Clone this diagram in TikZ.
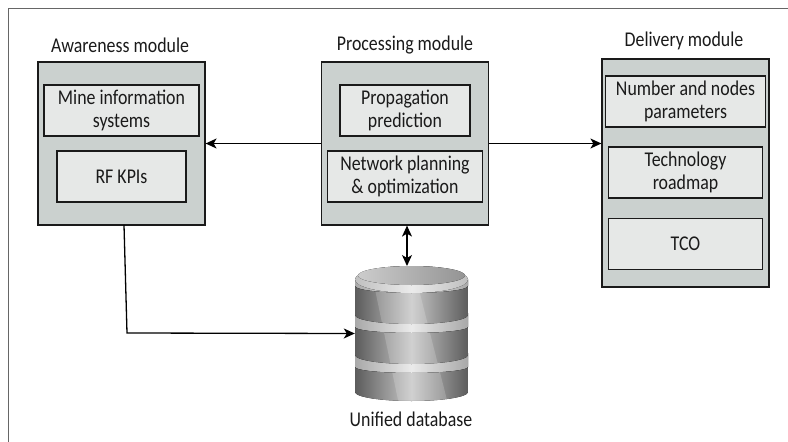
\documentclass[tikz,border=0pt]{standalone}
\usepackage{fontspec}
\setmainfont[FakeStretch=0.85]{Carlito}
\usetikzlibrary{positioning}
\usetikzlibrary{arrows.meta}
\definecolor{moduleback}{HTML}{CBD1CF}
\definecolor{partback}{HTML}{E6E8E7}
\definecolor{inkline}{HTML}{1A1A1A}

\begin{document}
\begin{tikzpicture}[
    x=1pt, y=-1pt,
    module/.style={rectangle, draw=inkline, line width=1.2pt, fill=moduleback, minimum width=167pt, inner sep=0pt},
    part/.style={rectangle, draw=inkline, line width=1.2pt, fill=partback, minimum height=51pt, inner sep=0pt, align=center, text=inkline,
      font=\fontsize{21}{23}\selectfont},
    caption/.style={text=inkline, font=\fontsize{21}{23}\selectfont, inner sep=0pt},
    link/.style={draw=black, line width=1.3pt, -{Stealth[length=11pt,width=10pt,inset=3pt]}}]

  \useasboundingbox (0,0) rectangle (788,442);

  % Frame (left and top only)
  \coordinate (frameL) at (8,442);
  \coordinate (frameC) at (8,8);
  \coordinate (frameT) at (788,8);
  \draw[gray!80!black, line width=0.9pt] (frameL) -- (frameC) -- (frameT);

  % Awareness module
  \node[module, minimum height=163pt] (aware) at (121.5,143.5) {};
  \node[caption] (awarecap) at (120,45) {Awareness module};
  \node[part, minimum width=155pt] (mine) at (121.5,110.5) {Mine information\\systems};
  \node[part, minimum width=129pt] (kpi) at (121.5,176.5) {RF KPIs};

  % Processing module
  \node[module, minimum height=163pt] (proc) at (405,143.5) {};
  \node[caption] (proccap) at (405,45) {Processing module};
  \node[part, minimum width=130pt] (prop) at (405,110.5) {Propagation\\prediction};
  \node[part, minimum width=155pt] (plan) at (405,176.5) {Network planning\\\& optimization};

  % Delivery module
  \node[module, minimum height=228pt] (deliv) at (685.5,173) {};
  \node[caption] (delivcap) at (684,41) {Delivery module};
  \node[part, minimum width=160pt] (nodespar) at (685.5,101.5) {Number and nodes\\parameters};
  \node[part, minimum width=154pt] (tech) at (685.5,172.5) {Technology\\roadmap};
  \node[part, minimum width=154pt] (tco) at (685.5,244) {TCO};

  % Database
  \node[minimum width=113pt, minimum height=134pt, inner sep=0pt] (db) at (411.5,333.5) {};
  \node[caption] (dbcap) at (411,419) {Unified database};
  \foreach \yr/\yt/\yb/\ya in {353/367/392/6, 313/327/355/6, 279.5/286/315/7} {
    \fill[left color=black!34, right color=black!34, middle color=black!8]
      (355,\yr) arc[start angle=180, end angle=0, x radius=56.5, y radius=9]
      -- (468,\yt) arc[start angle=0, end angle=180, x radius=56.5, y radius=\ya] -- cycle;
    \begin{scope}
      \clip (355,\yt) -- (355,\yb) arc[start angle=180, end angle=0, x radius=56.5, y radius=9]
        -- (468,\yt) arc[start angle=0, end angle=180, x radius=56.5, y radius=\ya] -- cycle;
      \fill[left color=black!64, right color=black!64, middle color=black!22] (355,\yt-5) rectangle (468,\yb+10);
      \fill[white, opacity=0.18] (371,270) -- (414,270) -- (447,400) -- (398,400) -- cycle;
    \end{scope}
  }
  \fill[left color=black!25, right color=black!25, middle color=black!8] (411.5,279.5) ellipse[x radius=56.5, y radius=13.5];
  \fill[left color=black!20, right color=black!42] (411.5,275.5) ellipse[x radius=53.5, y radius=9.5];

  % Connections
  \coordinate (awareout) at (124,225);
  \coordinate (turn) at (127,333);
  \coordinate (dbtop) at (407,266);
  \draw[link] (proc.west) -- (aware.east);
  \draw[link] (proc.east) -- (deliv.west |- proc.east);
  \draw[link, {Stealth[length=11pt,width=10pt,inset=3pt]}-{Stealth[length=11pt,width=10pt,inset=3pt]}] (proc.south -| dbtop) -- (dbtop);
  \draw[link] (awareout) -- (turn) -- (db.west);

\end{tikzpicture}
\end{document}
